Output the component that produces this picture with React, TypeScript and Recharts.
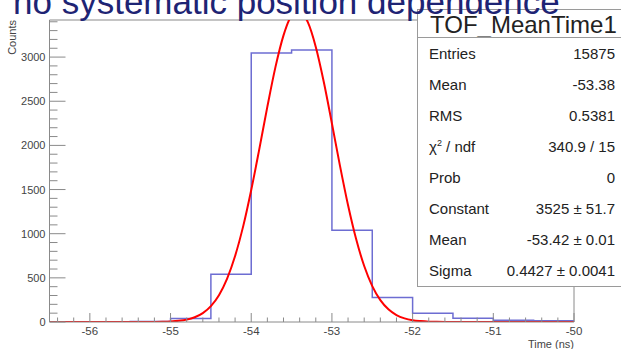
import { LineChart, Line, XAxis, YAxis, ReferenceLine } from "recharts";

// histogram bins (lower edge, 0.5 ns wide) and their counts
const BIN_LOW = [-56.5, -56, -55.5, -55, -54.5, -54, -53.5, -53, -52.5, -52, -51.5, -51, -50.5];
const BIN_COUNTS = [0, 0, 5, 40, 540, 3045, 3080, 1040, 278, 100, 42, 20, 15];

// gaussian fit curve
const FIT_TIME = [
  -56.5, -55.5, -55.3, -55.2, -55.1, -55.0, -54.9, -54.8, -54.7, -54.6, -54.5, -54.4, -54.3,
  -54.2, -54.1, -54.0, -53.9, -53.8, -53.7, -53.6, -53.5, -53.4, -53.3, -53.2, -53.1, -53.0,
  -52.9, -52.8, -52.7, -52.6, -52.5, -52.4, -52.3, -52.2, -52.1, -52.0, -51.9, -51.8, -51.7,
  -51.5, -50,
];
const FIT_COUNTS = [
  0, 0, 0.4, 1.1, 2.6, 6, 13, 27, 54, 101, 180, 304, 489,
  747, 1083, 1495, 1958, 2439, 2886, 3246, 3468, 3521, 3398, 3115, 2715, 2248,
  1768, 1322, 939, 634, 407, 248, 144, 79, 41, 20, 10, 4, 2,
  0, 0,
];

const X_LABELS = [-56, -55, -54, -53, -52, -51, -50];
const Y_LABELS = [0, 500, 1000, 1500, 2000, 2500, 3000];

const STAT_NAMES = ["Entries", "Mean", "RMS", "chi2", "Prob", "Constant", "Mean", "Sigma"];
const STAT_VALUES = ["15875", "-53.38", "0.5381", "340.9 / 15", "0", "3525 ± 51.7", "-53.42 ± 0.01", "0.4427 ± 0.0041"];

const W = 621;
const H = 349;
const LEFT = 49.5;
const RIGHT = 574;
const TOP = 20;
const BOTTOM = 322;
const Y_MAX = 3420;
const FONT = "'Liberation Sans', Arial, Helvetica, sans-serif";
const AXIS = "#8a8a8a";

const histData = BIN_LOW.map((t, i) => ({ t, n: BIN_COUNTS[i] })).concat({
  t: -50,
  n: BIN_COUNTS[BIN_COUNTS.length - 1],
});
const fitData = FIT_TIME.map((t, i) => ({ t, f: FIT_COUNTS[i] }));

const xTicks = Array.from({ length: 33 }, (_, i) => (i - 282) / 5);
const yTicks = Array.from({ length: 35 }, (_, i) => i * 100);

const XTick = (props: any) => {
  const { x, payload } = props;
  const major = X_LABELS.includes(payload.value);
  return (
    <g>
      <line x1={x} x2={x} y1={BOTTOM} y2={BOTTOM - (major ? 9 : 4.5)} stroke={AXIS} />
      {major && (
        <text x={x} y={BOTTOM + 13} textAnchor="middle" fontSize={11.5} fontFamily={FONT} fill="#444">
          {payload.value}
        </text>
      )}
    </g>
  );
};

const YTick = (props: any) => {
  const { y, payload } = props;
  const major = Y_LABELS.includes(payload.value);
  return (
    <g>
      <line x1={LEFT} x2={LEFT + (major ? 16 : 8)} y1={y} y2={y} stroke={AXIS} />
      {major && (
        <text x={LEFT - 4} y={y + 4} textAnchor="end" fontSize={11} fontFamily={FONT} fill="#444">
          {payload.value}
        </text>
      )}
    </g>
  );
};

export default function App() {
  return (
    <div style={{ position: "fixed", left: 0, top: 0, width: W, height: H, overflow: "hidden", background: "#fff" }}>
      <LineChart
        width={W}
        height={H}
        margin={{ top: TOP, right: W - RIGHT, bottom: H - BOTTOM - 1, left: LEFT - 1 }}
      >
        <XAxis
          dataKey="t"
          type="number"
          domain={[-56.5, -50]}
          allowDataOverflow
          ticks={xTicks}
          interval={0}
          height={1}
          tickLine={false}
          tick={(p: any) => <XTick {...p} />}
          stroke={AXIS}
        />
        <YAxis
          type="number"
          domain={[0, Y_MAX]}
          allowDataOverflow
          ticks={yTicks}
          interval={0}
          width={1}
          tickLine={false}
          tick={(p: any) => <YTick {...p} />}
          stroke={AXIS}
        />
        <ReferenceLine y={Y_MAX} stroke={AXIS} />
        <ReferenceLine x={-50} stroke={AXIS} />
        <Line
          data={histData}
          dataKey="n"
          type="stepAfter"
          stroke="#6d6dd2"
          strokeWidth={1.5}
          dot={false}
          isAnimationActive={false}
        />
        <Line
          data={fitData}
          dataKey="f"
          type="monotone"
          stroke="#ff0000"
          strokeWidth={2}
          dot={false}
          isAnimationActive={false}
        />
      </LineChart>

      <div
        style={{
          position: "absolute",
          left: 417,
          top: 9,
          width: 240,
          height: 276,
          background: "#fff",
          border: "1px solid #9a9a9a",
          fontFamily: FONT,
          color: "#222",
        }}
      >
        <div style={{ position: "absolute", left: 12, top: 2, fontSize: 24, lineHeight: "26px", color: "#222" }}>
          TOF_MeanTime1
        </div>
        <div style={{ position: "absolute", left: 0, right: 0, top: 27, borderTop: "1px solid #9a9a9a" }} />
        {STAT_NAMES.map((name, i) => (
          <div
            key={i}
            style={{
              position: "absolute",
              left: 11,
              width: 186,
              top: 34 + i * 31,
              height: 20,
              lineHeight: "20px",
              fontSize: 15,
              display: "flex",
              justifyContent: "space-between",
            }}
          >
            <span>
              {name === "chi2" ? (
                <>
                  χ<sup style={{ fontSize: 9, lineHeight: 0, verticalAlign: "6px" }}>2</sup> / ndf
                </>
              ) : (
                name
              )}
            </span>
            <span>{STAT_VALUES[i]}</span>
          </div>
        ))}
      </div>

      <svg width={W} height={H} style={{ position: "absolute", left: 0, top: 0, pointerEvents: "none" }}>
        <text x={13} y={14} fontSize={35} fontFamily={FONT} fill="#1e2474">
          no systematic position dependence
        </text>
        <text
          x={15.5}
          y={TOP}
          textAnchor="end"
          fontSize={11}
          fontFamily={FONT}
          fill="#444"
          transform={`rotate(-90, 15.5, ${TOP})`}
        >
          Counts
        </text>
        <text x={RIGHT} y={347.5} textAnchor="end" fontSize={11} fontFamily={FONT} fill="#444">
          Time (ns)
        </text>
      </svg>
    </div>
  );
}
